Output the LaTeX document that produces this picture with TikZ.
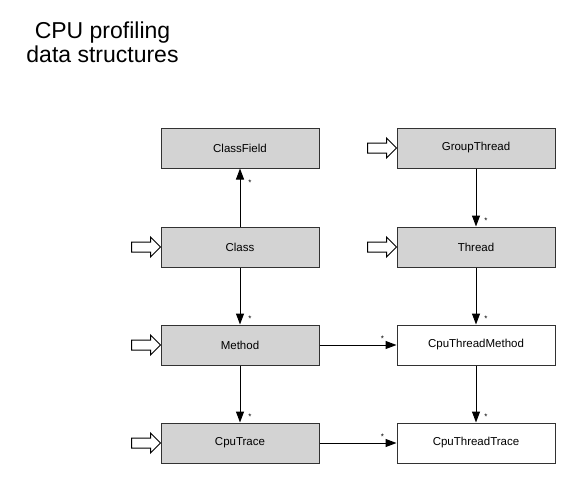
\documentclass[tikz,border=0pt]{standalone}
\usepackage{fontspec}
\setmainfont{Liberation Sans}
\usetikzlibrary{arrows.meta}
\definecolor{boxgray}{RGB}{211,211,211}
\definecolor{edgegray}{RGB}{50,50,50}
\tikzset{
  cls/.style={draw=edgegray, line width=1pt, minimum width=158pt, minimum height=40pt, inner sep=0pt, font=\fontsize{11.5}{13}\selectfont},
  grayed/.style={cls, fill=boxgray},
  white/.style={cls, fill=white},
  conn/.style={line width=1pt, -{Triangle[length=11pt,width=8pt]}},
  mult/.style={font=\fontsize{8}{9}\selectfont, inner sep=0pt},
  hollow/.style={draw=black, line width=1pt, fill=white, line join=miter},
}
\newcommand{\entryarrow}[1]{%
  \draw[hollow, shift={(#1.west)}] (0,0) -- (-10,-10) -- (-10,-5) -- (-29,-5) -- (-29,5) -- (-10,5) -- (-10,10) -- cycle;}
\begin{document}
\begin{tikzpicture}[x=1pt, y=-1pt]
\useasboundingbox (0,0) rectangle (577,484);
\node[font=\fontsize{23}{24}\selectfont, align=center, inner sep=0pt] (title) at (102.5,42.6) {CPU profiling\\data structures};

\node[grayed] (classfield) at (240,148) {ClassField};
\node[grayed] (class) at (240,247) {Class};
\node[grayed] (method) at (240,345) {Method};
\node[grayed] (cputrace) at (240,443) {CpuTrace};
\node[grayed] (groupthread) at (476,148) {GroupThread};
\node[grayed] (thread) at (476,247) {Thread};
\node[white] (ctm) at (476,345) {CpuThreadMethod};
\node[white] (ctt) at (476,443) {CpuThreadTrace};

\draw[conn] (class) -- (classfield) node[pos=1, mult, xshift=10pt, yshift=-14pt] {*};
\draw[conn] (groupthread) -- (thread) node[pos=1, mult, xshift=10pt, yshift=6pt] {*};
\draw[conn] (class) -- (method) node[pos=1, mult, xshift=10pt, yshift=6pt] {*};
\draw[conn] (thread) -- (ctm) node[pos=1, mult, xshift=10pt, yshift=6pt] {*};
\draw[conn] (method) -- (cputrace) node[pos=1, mult, xshift=10pt, yshift=6pt] {*};
\draw[conn] (ctm) -- (ctt) node[pos=1, mult, xshift=10pt, yshift=6pt] {*};
\draw[conn] (method) -- (ctm) node[pos=1, mult, xshift=-14pt, yshift=6pt] {*};
\draw[conn] (cputrace) -- (ctt) node[pos=1, mult, xshift=-14pt, yshift=6pt] {*};

\entryarrow{class}
\entryarrow{method}
\entryarrow{cputrace}
\entryarrow{groupthread}
\entryarrow{thread}
\end{tikzpicture}
\end{document}
